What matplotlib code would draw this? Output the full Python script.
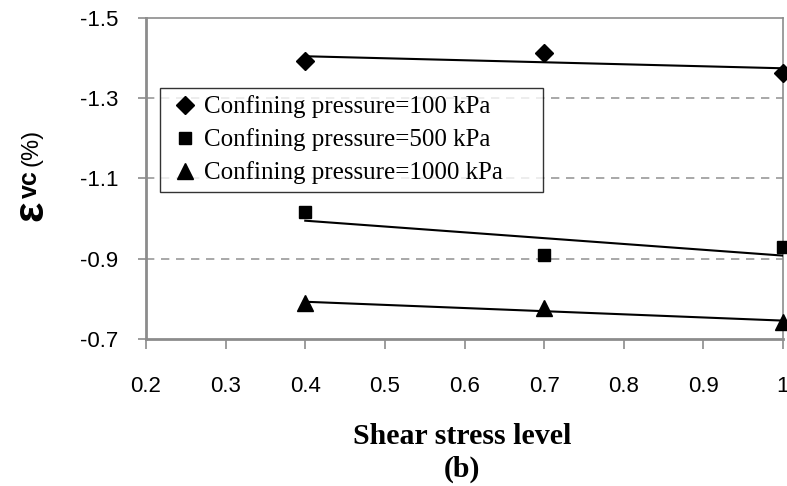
import numpy as np
import matplotlib.pyplot as plt

# shear stress levels and volumetric strain (%) per confining pressure
shear_level = [0.4, 0.7, 1.0]
evc_100 = [-1.393, -1.413, -1.363]
evc_500 = [-1.016, -0.909, -0.929]
evc_1000 = [-0.789, -0.777, -0.742]

series_labels = ["Confining pressure=100 kPa",
                 "Confining pressure=500 kPa",
                 "Confining pressure=1000 kPa"]
x_ticks = [0.2, 0.3, 0.4, 0.5, 0.6, 0.7, 0.8, 0.9, 1.0]
x_ticklabels = ["0.2", "0.3", "0.4", "0.5", "0.6", "0.7", "0.8", "0.9", "1"]
y_ticks = [-1.5, -1.3, -1.1, -0.9, -0.7]
y_ticklabels = ["-1.5", "-1.3", "-1.1", "-0.9", "-0.7"]

W, H = 787, 486
fig = plt.figure(figsize=(W / 100, H / 100), dpi=100)
ax = fig.add_axes([146 / W, 1 - 339 / H, (783 - 146) / W, (339 - 18) / H])

gray = "#8c8c8c"
markers = ["D", "s", "^"]
msizes = [9, 9, 11]
handles = []
for vals, m, ms, lab in zip([evc_100, evc_500, evc_1000], markers, msizes, series_labels):
    # linear trend line
    k, b = np.polyfit(shear_level, vals, 1)
    xs = np.array([shear_level[0], shear_level[-1]])
    ax.plot(xs, k * xs + b, color="black", lw=1.5, zorder=3)
    h, = ax.plot(shear_level, vals, linestyle="none", marker=m, ms=ms,
                 color="black", clip_on=False, zorder=4, label=lab)
    handles.append(h)

ax.set_xlim(0.2, 1.0)
ax.set_ylim(-0.7, -1.5)
ax.set_xticks(x_ticks)
ax.set_xticklabels(x_ticklabels, family="Liberation Sans", fontsize=16)
ax.set_yticks(y_ticks)
ax.set_yticklabels(y_ticklabels, family="Liberation Sans", fontsize=16)
ax.tick_params(axis="x", direction="out", length=7, width=1.2, color=gray, pad=20)
ax.tick_params(axis="y", direction="out", length=6, width=1.2, color=gray, pad=14)

for s in ax.spines.values():
    s.set_color(gray)
    s.set_linewidth(1.2)
ax.spines["left"].set_linewidth(2)
ax.spines["bottom"].set_linewidth(2)

for y in [-1.3, -1.1, -0.9]:
    ax.axhline(y, color="#999999", lw=1.2, ls=(0, (5, 4)), zorder=1)

# legend box: x 160..543, y 88..190 px
lx0 = (160 - 146) / 637
lw_ = (543 - 160) / 637
ltop = (339 - 88) / 321
lh = (190 - 88) / 321
leg = ax.legend(handles=handles, loc="upper left",
                bbox_to_anchor=(lx0, ltop - lh, lw_, lh), mode="expand",
                prop={"family": "Liberation Serif", "size": 18},
                frameon=True, fancybox=False, handlelength=1.4,
                handletextpad=0.05, borderpad=0.3, labelspacing=0.4,
                borderaxespad=0)
leg.get_frame().set_edgecolor("black")
leg.get_frame().set_linewidth(1.0)

xc = (146 + 783) / 2 / W - 0.003
fig.text(xc, 1 - 437 / H, "Shear stress level",
         ha="center", va="center", family="Liberation Serif",
         fontweight="bold", fontsize=21.5)
fig.text(xc, 1 - 469 / H, "(b)",
         ha="center", va="center", family="Liberation Serif",
         fontweight="bold", fontsize=21.5)

# y label: epsilon with subscript vc and (%)
fig.text(42 / W, 1 - 211 / H, "ε", rotation=90, rotation_mode="anchor",
         ha="center", va="baseline", family="Liberation Sans",
         fontweight="bold", fontsize=31)
fig.text(37 / W, 1 - 184 / H, "vc", rotation=90, rotation_mode="anchor",
         ha="center", va="baseline", family="Liberation Sans",
         fontweight="bold", fontsize=18)
fig.text(38 / W, 1 - 147 / H, "(%)", rotation=90, rotation_mode="anchor",
         ha="center", va="baseline", family="Liberation Sans", fontsize=17)

fig.savefig("out.png", dpi=100)
